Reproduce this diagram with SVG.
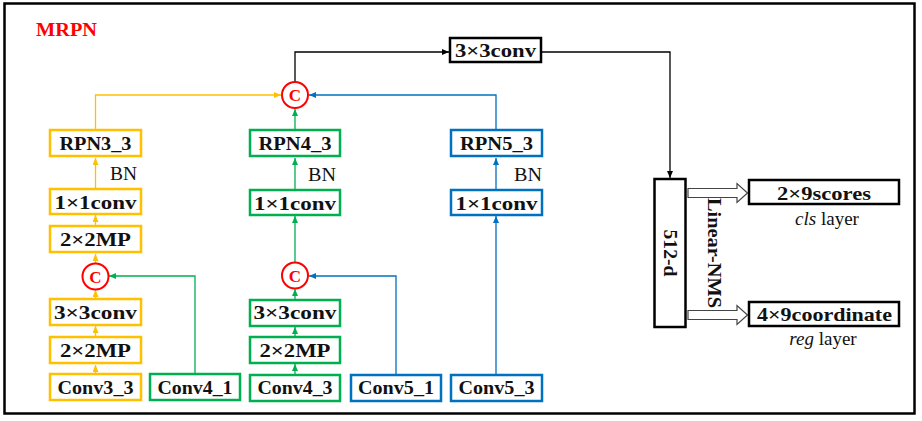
<svg xmlns="http://www.w3.org/2000/svg" width="922" height="421" viewBox="0 0 922 421">
<style>
.bx{fill:#fff;stroke-width:2.5}
.y{stroke:#FFC000}.g{stroke:#00B050}.b{stroke:#0070C0}.k{stroke:#000}
.t{font-family:"Liberation Serif","Times New Roman",serif;font-weight:bold;font-size:19px;fill:#111;text-anchor:middle}
.r{font-family:"Liberation Serif","Times New Roman",serif;font-size:19px;fill:#111}
.cc{fill:#fff;stroke:#FF0000;stroke-width:2}
.ct{font-family:"Liberation Serif",serif;font-weight:bold;font-size:17px;fill:#FF0000;text-anchor:middle}
.ln{fill:none;stroke-width:1.3}
</style>
<defs>
<marker id="ay" markerUnits="userSpaceOnUse" markerWidth="8" markerHeight="8" refX="7" refY="3" orient="auto"><path d="M0,0 L7,3 L0,6 z" fill="#FFC000"/></marker>
<marker id="ag" markerUnits="userSpaceOnUse" markerWidth="8" markerHeight="8" refX="7" refY="3" orient="auto"><path d="M0,0 L7,3 L0,6 z" fill="#00B050"/></marker>
<marker id="ab" markerUnits="userSpaceOnUse" markerWidth="8" markerHeight="8" refX="7" refY="3" orient="auto"><path d="M0,0 L7,3 L0,6 z" fill="#0070C0"/></marker>
<marker id="ak" markerUnits="userSpaceOnUse" markerWidth="8" markerHeight="8" refX="7" refY="3" orient="auto"><path d="M0,0 L7,3 L0,6 z" fill="#000"/></marker>
</defs>
<rect x="4.5" y="3.5" width="910" height="410" fill="#fff" stroke="#000" stroke-width="2.5"/>
<text x="36" y="36" font-family="Liberation Serif,serif" font-weight="bold" font-size="19" fill="#FF0000" textLength="61" lengthAdjust="spacingAndGlyphs">MRPN</text>

<g id="connectors">
<!-- yellow column -->
<path class="ln y" d="M95.5,373 V365" marker-end="url(#ay)"/>
<path class="ln y" d="M95.5,336 V326" marker-end="url(#ay)"/>
<path class="ln y" d="M95.5,298 V290" marker-end="url(#ay)"/>
<path class="ln y" d="M95.5,263 V254" marker-end="url(#ay)"/>
<path class="ln y" d="M95.5,225 V215" marker-end="url(#ay)"/>
<path class="ln y" d="M95.5,188 V158" marker-end="url(#ay)"/>
<path class="ln y" d="M95.5,129 V95 H281" marker-end="url(#ay)"/>
<path class="ln g" d="M195,373 V276 H109" marker-end="url(#ag)"/>
<!-- green column -->
<path class="ln g" d="M295,374 V364" marker-end="url(#ag)"/>
<path class="ln g" d="M295,337 V327" marker-end="url(#ag)"/>
<path class="ln g" d="M295,299 V289" marker-end="url(#ag)"/>
<path class="ln g" d="M295,263 V216" marker-end="url(#ag)"/>
<path class="ln g" d="M295,189 V158" marker-end="url(#ag)"/>
<path class="ln g" d="M295,129 V109" marker-end="url(#ag)"/>
<path class="ln b" d="M396,374 V276 H309" marker-end="url(#ab)"/>
<!-- blue column -->
<path class="ln b" d="M496,374 V216" marker-end="url(#ab)"/>
<path class="ln b" d="M496,189 V158" marker-end="url(#ab)"/>
<path class="ln b" d="M496,129 V95 H309" marker-end="url(#ab)"/>
<!-- black -->
<path class="ln k" d="M295,82 V52 H449" marker-end="url(#ak)"/>
<path class="ln k" d="M542,52 H670 V178" marker-end="url(#ak)"/>
<!-- hollow arrows -->
<path d="M688,188.5 H737 V183.5 L747.5,193 L737,202.5 V197.5 H688 Z" fill="#fff" stroke="#444" stroke-width="1.2"/>
<path d="M688,310.5 H737 V305.5 L747.5,315 L737,324.5 V319.5 H688 Z" fill="#fff" stroke="#444" stroke-width="1.2"/>
</g>

<text class="r" x="110" y="180" textLength="27" lengthAdjust="spacingAndGlyphs">BN</text>
<text class="r" x="308" y="181" textLength="28" lengthAdjust="spacingAndGlyphs">BN</text>
<text class="r" x="514" y="181" textLength="28" lengthAdjust="spacingAndGlyphs">BN</text>

<g id="rpn3_3"><rect class="bx y" x="50" y="130" width="91" height="26"/><text class="t" x="95.5" y="150" textLength="72" lengthAdjust="spacingAndGlyphs">RPN3_3</text></g>
<g id="conv1x1_y"><rect class="bx y" x="50" y="189" width="91" height="25"/><text class="t" x="95.5" y="209" textLength="82" lengthAdjust="spacingAndGlyphs">1×1conv</text></g>
<g id="mp_y1"><rect class="bx y" x="50" y="226" width="91" height="26"/><text class="t" x="95.5" y="246" textLength="71" lengthAdjust="spacingAndGlyphs">2×2MP</text></g>
<g id="c_y"><circle class="cc" cx="95.5" cy="276.5" r="13"/><text class="ct" x="95.5" y="282.5">C</text></g>
<g id="conv3x3_y"><rect class="bx y" x="50" y="299" width="91" height="26"/><text class="t" x="95.5" y="318.5" textLength="83" lengthAdjust="spacingAndGlyphs">3×3conv</text></g>
<g id="mp_y2"><rect class="bx y" x="50" y="337" width="91" height="26"/><text class="t" x="95.5" y="356.5" textLength="71" lengthAdjust="spacingAndGlyphs">2×2MP</text></g>
<g id="conv3_3"><rect class="bx y" x="50" y="374" width="91" height="26"/><text class="t" x="95.5" y="393.5" textLength="76" lengthAdjust="spacingAndGlyphs">Conv3_3</text></g>
<g id="conv4_1"><rect class="bx g" x="150" y="374" width="90" height="26"/><text class="t" x="195" y="393.5" textLength="75" lengthAdjust="spacingAndGlyphs">Conv4_1</text></g>

<g id="rpn4_3"><rect class="bx g" x="250" y="130" width="90" height="26"/><text class="t" x="295" y="150" textLength="73" lengthAdjust="spacingAndGlyphs">RPN4_3</text></g>
<g id="conv1x1_g"><rect class="bx g" x="250" y="190" width="90" height="25"/><text class="t" x="295" y="210" textLength="82" lengthAdjust="spacingAndGlyphs">1×1conv</text></g>
<g id="c_g"><circle class="cc" cx="295" cy="275.5" r="13"/><text class="ct" x="295" y="281.5">C</text></g>
<g id="conv3x3_g"><rect class="bx g" x="250" y="300" width="90" height="26"/><text class="t" x="295" y="319" textLength="83" lengthAdjust="spacingAndGlyphs">3×3conv</text></g>
<g id="mp_g"><rect class="bx g" x="250" y="337" width="90" height="26"/><text class="t" x="295" y="356.5" textLength="71" lengthAdjust="spacingAndGlyphs">2×2MP</text></g>
<g id="conv4_3"><rect class="bx g" x="250" y="375" width="90" height="26"/><text class="t" x="295" y="394" textLength="75" lengthAdjust="spacingAndGlyphs">Conv4_3</text></g>
<g id="conv5_1"><rect class="bx b" x="351" y="375" width="90" height="26"/><text class="t" x="396" y="394" textLength="76" lengthAdjust="spacingAndGlyphs">Conv5_1</text></g>

<g id="rpn5_3"><rect class="bx b" x="451" y="130" width="91" height="26"/><text class="t" x="496.5" y="150" textLength="73" lengthAdjust="spacingAndGlyphs">RPN5_3</text></g>
<g id="conv1x1_b"><rect class="bx b" x="451" y="190" width="91" height="25"/><text class="t" x="496.5" y="210" textLength="82" lengthAdjust="spacingAndGlyphs">1×1conv</text></g>
<g id="conv5_3"><rect class="bx b" x="451" y="375" width="91" height="26"/><text class="t" x="496.5" y="394" textLength="76" lengthAdjust="spacingAndGlyphs">Conv5_3</text></g>

<g id="c_top"><circle class="cc" cx="295" cy="95" r="13"/><text class="ct" x="295" y="101">C</text></g>
<g id="conv3x3_top"><rect class="bx k" x="450" y="38" width="91" height="24" stroke-width="2.2"/><text class="t" x="495.5" y="57" font-size="18" textLength="81" lengthAdjust="spacingAndGlyphs">3×3conv</text></g>

<g id="d512"><rect class="bx k" x="654.5" y="179" width="31" height="148" stroke-width="2.2"/><text class="t" transform="translate(670,253) rotate(90)" x="0" y="6" font-size="17" textLength="47" lengthAdjust="spacingAndGlyphs">512-d</text></g>
<text class="t" transform="translate(714,253) rotate(90)" x="0" y="6" font-size="17" textLength="110" lengthAdjust="spacingAndGlyphs">Linear-NMS</text>

<g id="scores"><rect class="bx k" x="749" y="180" width="150" height="24" stroke-width="2.2"/><text class="t" x="824" y="199.5" font-size="17" textLength="94" lengthAdjust="spacingAndGlyphs">2×9scores</text></g>
<text class="r" x="827" y="225" text-anchor="middle" font-size="18"><tspan font-style="italic">cls</tspan> layer</text>
<g id="coords"><rect class="bx k" x="749" y="302" width="150" height="24" stroke-width="2.2"/><text class="t" x="824.5" y="321" font-size="17" textLength="135" lengthAdjust="spacingAndGlyphs">4×9coordinate</text></g>
<text class="r" x="823" y="345" text-anchor="middle" font-size="18"><tspan font-style="italic">reg</tspan> layer</text>
</svg>
